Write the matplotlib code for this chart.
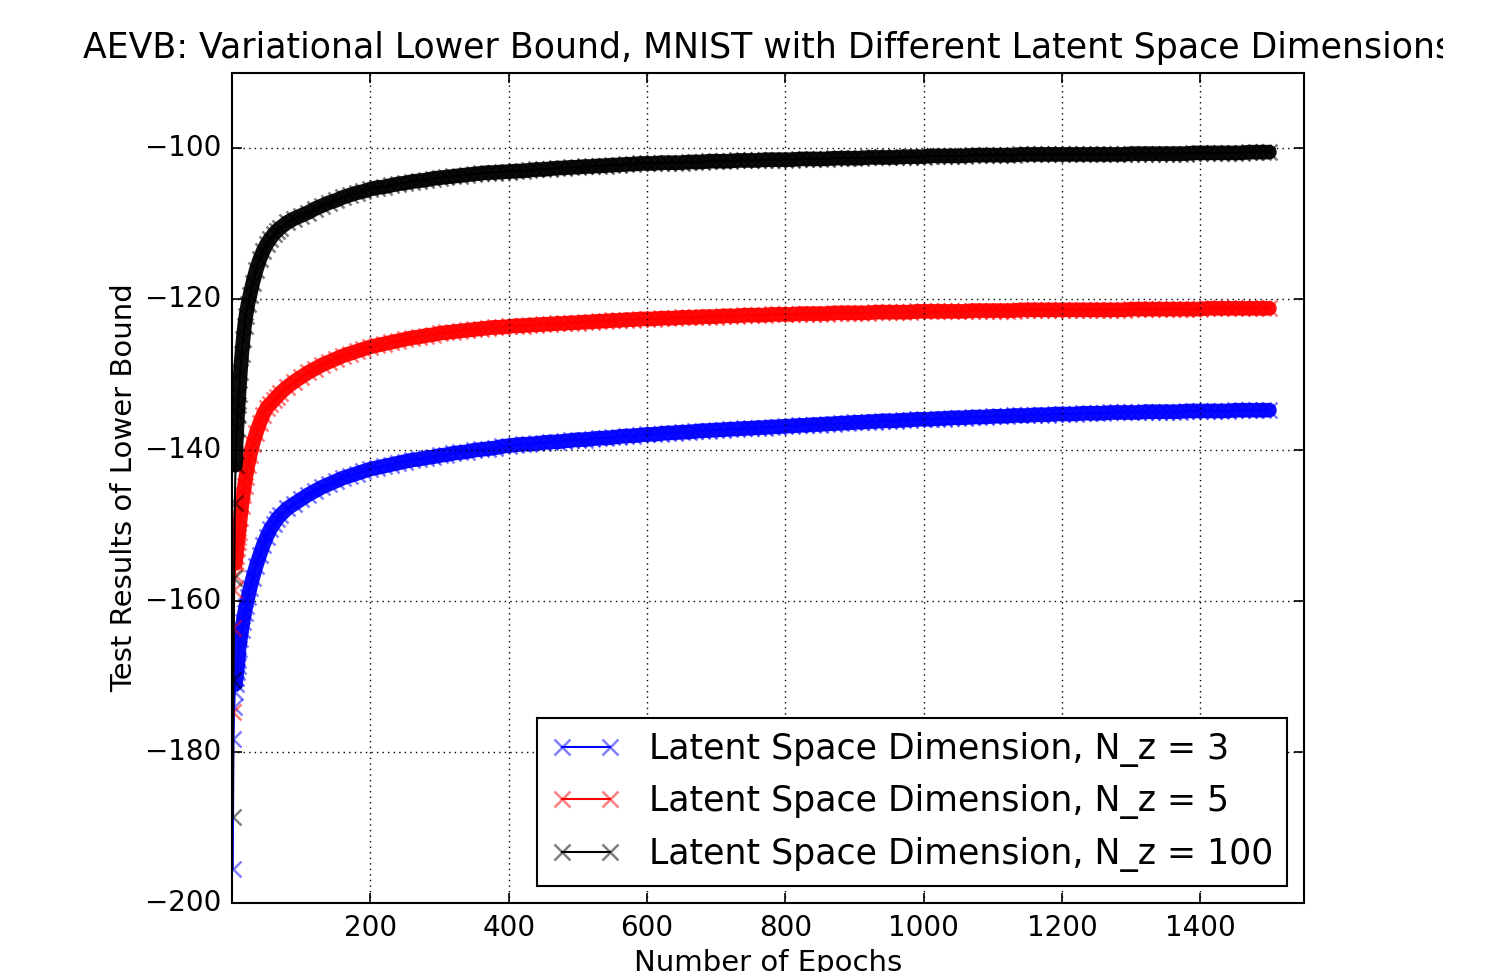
import matplotlib
matplotlib.use("Agg")
import matplotlib.pyplot as plt
from matplotlib.transforms import Bbox

epochs = [1, 2, 3, 4, 5, 6, 7, 8, 9, 10, 12, 14, 16, 18, 20, 23, 26, 30, 35, 40,
          45, 50, 55, 60, 65, 70, 80, 90, 100] + list(range(110, 1501, 10))

nz3 = [-195.5, -178.3, -174.0, -172.0, -171.0, -170.2, -169.4, -168.6, -167.8, -166.3,
       -165.0, -163.8, -162.7, -161.6, -160.7, -159.5, -158.3, -156.9, -155.3, -153.9,
       -152.6, -151.5, -150.5, -149.8, -149.1, -148.6, -147.7, -147.1, -146.5,
       -145.9, -145.4, -144.9, -144.5, -144.1, -143.7, -143.4, -143.1, -142.8, -142.5,
       -142.3, -142.1, -141.9, -141.7, -141.5, -141.3, -141.2, -141.0, -140.9, -140.7,
       -140.6, -140.4, -140.3, -140.2, -140.0, -139.9, -139.8, -139.7, -139.5, -139.4,
       -139.3, -139.2, -139.2, -139.1, -139.0, -138.9, -138.9, -138.8, -138.7, -138.6,
       -138.6, -138.5, -138.4, -138.4, -138.3, -138.2, -138.1, -138.1, -138.0, -137.9,
       -137.9, -137.8, -137.7, -137.7, -137.6, -137.6, -137.5, -137.4, -137.4, -137.3,
       -137.3, -137.2, -137.2, -137.1, -137.1, -137.0, -137.0, -136.9, -136.9, -136.8,
       -136.8, -136.7, -136.7, -136.6, -136.6, -136.5, -136.5, -136.4, -136.4, -136.3,
       -136.3, -136.2, -136.2, -136.1, -136.1, -136.1, -136.0, -136.0, -135.9, -135.9,
       -135.9, -135.8, -135.8, -135.7, -135.7, -135.7, -135.6, -135.6, -135.6, -135.5,
       -135.5, -135.5, -135.4, -135.4, -135.4, -135.3, -135.3, -135.3, -135.2, -135.2,
       -135.2, -135.2, -135.1, -135.1, -135.1, -135.1, -135.0, -135.0, -135.0, -135.0,
       -135.0, -134.9, -134.9, -134.9, -134.9, -134.9, -134.9, -134.8, -134.8, -134.8,
       -134.8, -134.8, -134.8, -134.8, -134.7, -134.7, -134.7, -134.7, -134.7, -134.7]

nz5 = [-174.7, -163.5, -158.5, -156.5, -155.0, -154.0, -153.0, -152.2, -151.5, -150.8,
       -149.0, -147.4, -146.0, -144.7, -143.5, -142.0, -140.7, -139.2, -137.7, -136.4,
       -135.3, -134.4, -133.9, -133.4, -132.9, -132.4, -131.6, -130.9, -130.3,
       -129.7, -129.2, -128.7, -128.3, -127.9, -127.5, -127.2, -126.9, -126.6, -126.3,
       -126.1, -125.9, -125.7, -125.5, -125.3, -125.1, -125.0, -124.8, -124.7, -124.5,
       -124.4, -124.3, -124.2, -124.1, -124.0, -123.9, -123.8, -123.7, -123.7, -123.6,
       -123.5, -123.5, -123.4, -123.4, -123.3, -123.3, -123.2, -123.2, -123.1, -123.1,
       -123.0, -123.0, -122.9, -122.9, -122.8, -122.8, -122.7, -122.7, -122.6, -122.6,
       -122.6, -122.5, -122.5, -122.5, -122.4, -122.4, -122.4, -122.3, -122.3, -122.3,
       -122.2, -122.2, -122.2, -122.1, -122.1, -122.1, -122.1, -122.0, -122.0, -122.0,
       -122.0, -121.9, -121.9, -121.9, -121.9, -121.9, -121.8, -121.8, -121.8, -121.8,
       -121.8, -121.8, -121.7, -121.7, -121.7, -121.7, -121.7, -121.7, -121.6, -121.6,
       -121.6, -121.6, -121.6, -121.6, -121.6, -121.6, -121.5, -121.5, -121.5, -121.5,
       -121.5, -121.5, -121.5, -121.4, -121.4, -121.4, -121.4, -121.4, -121.4, -121.4,
       -121.4, -121.4, -121.4, -121.4, -121.4, -121.4, -121.4, -121.4, -121.4, -121.3,
       -121.3, -121.3, -121.3, -121.3, -121.3, -121.3, -121.3, -121.3, -121.3, -121.3,
       -121.2, -121.2, -121.2, -121.2, -121.2, -121.2, -121.2, -121.2, -121.2, -121.2]

nz100 = [-188.6, -170.5, -157.0, -147.0, -142.0, -139.0, -137.0, -135.3, -134.0, -132.5,
         -129.7, -127.3, -125.3, -123.6, -122.2, -120.6, -119.4, -117.8, -116.1, -114.7,
         -113.6, -112.7, -112.0, -111.4, -110.9, -110.5, -109.8, -109.3, -108.9,
         -108.5, -108.0, -107.6, -107.2, -106.9, -106.5, -106.2, -105.9, -105.7, -105.4,
         -105.2, -105.1, -104.9, -104.7, -104.6, -104.4, -104.3, -104.2, -104.0, -103.9,
         -103.8, -103.7, -103.6, -103.5, -103.4, -103.3, -103.2, -103.2, -103.1, -103.1,
         -103.0, -103.0, -102.9, -102.8, -102.8, -102.7, -102.6, -102.6, -102.5, -102.5,
         -102.4, -102.4, -102.3, -102.3, -102.2, -102.2, -102.1, -102.1, -102.0, -102.0,
         -102.0, -101.9, -101.9, -101.9, -101.9, -101.8, -101.8, -101.8, -101.7, -101.7,
         -101.7, -101.7, -101.6, -101.6, -101.6, -101.6, -101.5, -101.5, -101.5, -101.5,
         -101.5, -101.4, -101.4, -101.4, -101.4, -101.4, -101.3, -101.3, -101.3, -101.3,
         -101.3, -101.2, -101.2, -101.2, -101.2, -101.2, -101.1, -101.1, -101.1, -101.1,
         -101.0, -101.0, -101.0, -101.0, -101.0, -101.0, -100.9, -100.9, -100.9, -100.9,
         -100.9, -100.9, -100.9, -100.8, -100.8, -100.8, -100.8, -100.8, -100.8, -100.8,
         -100.8, -100.8, -100.8, -100.8, -100.8, -100.8, -100.8, -100.8, -100.8, -100.7,
         -100.7, -100.7, -100.7, -100.7, -100.7, -100.7, -100.7, -100.7, -100.6, -100.6,
         -100.6, -100.6, -100.6, -100.6, -100.6, -100.6, -100.5, -100.5, -100.5, -100.5]

series = [(nz3, "b", "Latent Space Dimension, N_z = 3"),
          (nz5, "r", "Latent Space Dimension, N_z = 5"),
          (nz100, "k", "Latent Space Dimension, N_z = 100")]

plt.style.use("classic")
plt.rcParams["font.family"] = "DejaVu Sans"

fig = plt.figure(figsize=(15.02, 9.72), dpi=100, facecolor="white")
ax = fig.add_axes([0.1545, 0.071, 0.7137, 0.854])

for vals, col, lab in series:
    # the dense run of x markers reads as a solid band
    ax.plot(epochs[4:], vals[4:], "-", color=col, lw=10.5, alpha=0.95,
            solid_capstyle="round", solid_joinstyle="round", label="_nolegend_")
    ax.plot(epochs, vals, "-", color=col, lw=1.5, marker="x", ms=11, mew=1.8,
            mec=matplotlib.colors.to_rgba(col, 0.5), label=lab)

ax.set_xlim(0, 1550)
ax.set_ylim(-200, -90)
ax.set_xticks([200, 400, 600, 800, 1000, 1200, 1400])
ax.set_yticks([-200, -180, -160, -140, -120, -100])
ax.grid(True, linestyle=":", color="k", lw=1)
ax.tick_params(labelsize=20, length=7, width=1.2, pad=8)
for s in ax.spines.values():
    s.set_linewidth(1.5)

ax.set_xlabel("Number of Epochs", fontsize=21)
ax.set_ylabel("Test Results of Lower Bound", fontsize=21)
t = ax.set_title("AEVB: Variational Lower Bound, MNIST with Different Latent Space Dimensions",
                 fontsize=25, y=1.01)
t.set_clip_box(Bbox.from_extents(0, 0, 1443, 972))
t.set_clip_on(True)

leg = ax.legend(loc="lower right", fontsize=25, numpoints=2, handlelength=2.0,
                borderaxespad=0.5, fancybox=False)
leg.get_frame().set_linewidth(1.5)

fig.savefig("out.png", dpi=100, facecolor="white")
